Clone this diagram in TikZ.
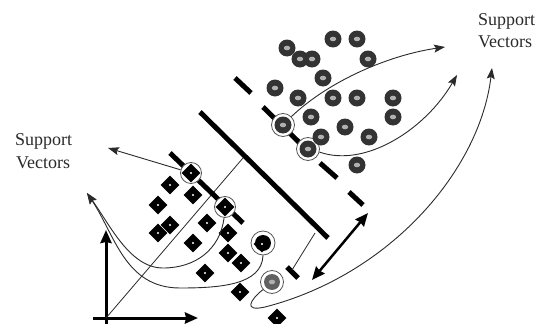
\documentclass[tikz,border=0pt]{standalone}
\usepackage{fontspec}
\setmainfont{Liberation Serif}
\usetikzlibrary{shapes.geometric,arrows.meta}
\definecolor{dotgray}{HTML}{333333}
\definecolor{holegray}{HTML}{B0B0B0}
\definecolor{ringgray}{HTML}{555555}
\definecolor{inkgray}{HTML}{2A2A2A}
\begin{document}
\begin{tikzpicture}[x=1pt,y=-1pt,
  dot/.style={circle, fill=dotgray, minimum size=17pt, inner sep=0pt,
    path picture={\fill[holegray] (path picture bounding box.center) ellipse (3.2pt and 2.3pt);}},
  dia/.style={diamond, fill=black, minimum size=19pt, inner sep=0pt,
    path picture={\fill[white] (path picture bounding box.center) circle (1.2pt);}},
  ring/.style={circle, draw=ringgray, fill=white, line width=0.8pt, minimum size=23pt, inner sep=0pt},
  margin/.style={line width=5pt, black},
  thinline/.style={line width=0.8pt, inkgray},
  curve/.style={line width=0.9pt, inkgray, -{Stealth[length=11pt,width=8pt,inset=2pt]}},
  label/.style={font=\fontsize{18}{22}\selectfont, text=inkgray, inner sep=0pt, anchor=base west}
]
\useasboundingbox (0,0) rectangle (547,324);

% axes
\draw[line width=3pt, -{Stealth[length=13pt,width=11pt,inset=1pt]}] (106,324) -- (106,230);
\draw[line width=3pt, -{Stealth[length=13pt,width=11pt,inset=1pt]}] (93,318) -- (198,318);
\coordinate (o) at (106,318);
\coordinate (n1) at (243,158);
\draw[thinline] (o) -- (n1);

% separating hyperplane and the two margins
\draw[margin] (200,112) -- (328,238);
\draw[margin] (235,78) -- (251,93);
\draw[margin] (263,107) -- (310,153);
\draw[margin] (320,163) -- (337,178);
\draw[margin] (349,192) -- (363,205);
\draw[margin] (170,153) -- (243,223);
\draw[margin] (287,267) -- (298,278);
\coordinate (p1) at (315,233);
\coordinate (p2) at (292,270);
\draw[thinline] (p1) -- (p2);

% width of the margin
\coordinate (da1) at (312,280);
\coordinate (da2) at (368,213);
\draw[line width=2.5pt, {Stealth[length=13pt,width=11pt,inset=1pt]}-{Stealth[length=13pt,width=11pt,inset=1pt]}] (da1) -- (da2);

% rings around the support vectors
\node[ring] (rc1) at (283,125) {};
\node[ring] (rc2) at (308,149) {};
\node[ring] (rc3) at (272,282) {};
\node[ring, minimum size=21pt] (rd1) at (191,173) {};
\node[ring, minimum size=21pt] (rd2) at (225,207) {};
\node[ring, minimum size=24pt] (rb) at (263,243) {};

% first class: circles
\foreach \p [count=\i] in {(287,48),(300,59),(312,59),(333,39),(357,39),(368,59),(323,78),
  (275,88),(298,98),(333,98),(357,98),(393,98),(311,117),(393,117),(345,127),(321,137),
  (369,137),(357,165),(283,125),(308,149)}
  \node[dot] (c\i) at \p {};
\node[dot, fill=gray!75!black, minimum size=16pt] (c21) at (272,282) {};

% second class: diamonds
\foreach \p [count=\i] in {(170,185),(193,195),(158,205),(170,225),(158,233),(207,223),
  (228,233),(193,243),(228,253),(241,263),(205,273),(240,292),(277,318),(191,173),(225,207)}
  \node[dia] (d\i) at \p {};
\node[circle, fill=black, minimum size=16pt, inner sep=0pt] (b1) at (263,243) {};
\node[dia, minimum size=17pt] (b2) at (262,244) {};

% arrows from the support vectors to their labels
\coordinate (t1) at (108,148);
\coordinate (t2) at (87,193);
\coordinate (t4) at (445,47);
\coordinate (t5) at (457,75);
\coordinate (t6) at (492,68);
\draw[curve] (rd1.163) -- (t1);
\draw[curve] (rd2.265) .. controls (220,250) and (195,268) .. (163,268)
                       .. controls (130,268) and (110,225) .. (t2);
\draw[curve] (rb.south) .. controls (262,285) and (220,288) .. (180,288)
                        .. controls (125,288) and (115,235) .. (t2);
\draw[curve] (rc1.45) .. controls (330,80) and (390,55) .. (t4);
\draw[curve] (rc2.-15) .. controls (365,168) and (425,130) .. (t5);
\draw[curve] (rc3.220) .. controls (250,300) and (243,312) .. (265,307)
                       .. controls (390,275) and (480,170) .. (t6);

% labels
\node[label] (l1) at (478,25) {Support};
\node[label] (l2) at (478,47) {Vectors};
\node[label] (l3) at (15,145) {Support};
\node[label] (l4) at (16,168) {Vectors};
\end{tikzpicture}
\end{document}
